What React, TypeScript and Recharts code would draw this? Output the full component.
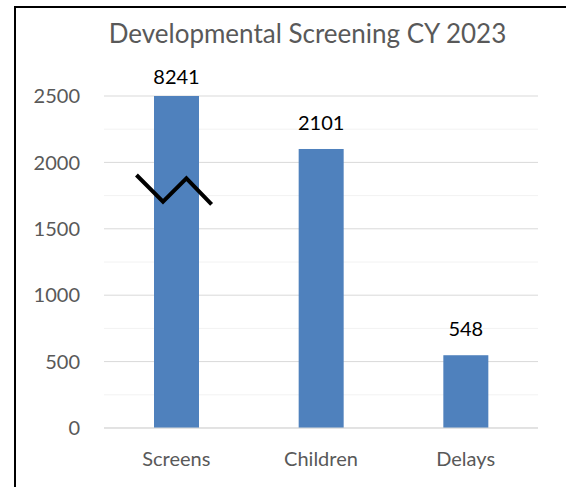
import React from "react";
import { BarChart, Bar, XAxis, YAxis, CartesianGrid, LabelList } from "recharts";

const categories = ["Screens", "Children", "Delays"];
const counts = [8241, 2101, 548];
const yTicks = [0, 500, 1000, 1500, 2000, 2500];
const minorTicks = [250, 750, 1250, 1750, 2250];
const AXIS_MAX = 2500;

// bars taller than the axis are cut at the top and get a break mark
const data = categories.map((name, i) => ({
  name,
  count: counts[i],
  shown: Math.min(counts[i], AXIS_MAX),
  broken: counts[i] > AXIS_MAX,
}));

const FONT = "Lato, 'Noto Sans', sans-serif";

function BarWithBreak(props: any) {
  const { x, y, width, height, fill, payload } = props;
  const rect = <rect x={x} y={y} width={width} height={height} fill={fill} />;
  if (!payload?.broken) return rect;
  const perUnit = height / payload.shown;
  const py = (v: number) => y + height - v * perUnit;
  const pts = [
    [x - width * 0.39, py(1905)],
    [x + width * 0.2, py(1704)],
    [x + width * 0.72, py(1880)],
    [x + width * 1.28, py(1684)],
  ];
  return (
    <g>
      {rect}
      <polyline
        points={pts.map((p) => p.join(",")).join(" ")}
        fill="none"
        stroke="#000"
        strokeWidth={4}
        strokeLinejoin="miter"
      />
    </g>
  );
}

function ValueLabel(props: any) {
  const { x, y, width, index } = props;
  const row = data[index];
  const gap = row.broken ? 12 : 19;
  return (
    <text
      x={x + width / 2}
      y={y - gap}
      textAnchor="middle"
      fontFamily={FONT}
      fontSize={20}
      fill="#000"
    >
      {row.count}
    </text>
  );
}

export default function App() {
  return (
    <div
      style={{
        position: "absolute",
        left: 0,
        top: 0,
        width: 566,
        height: 487,
        background: "#fff",
        overflow: "hidden",
      }}
    >
      <div
        style={{
          position: "absolute",
          left: 14,
          top: 6,
          right: 0,
          bottom: 0,
          borderTop: "2px solid #000",
          borderLeft: "2px solid #000",
        }}
      />
      <div
        style={{
          position: "absolute",
          left: 49,
          top: 20,
          width: 517,
          textAlign: "center",
          fontFamily: FONT,
          fontSize: 26,
          lineHeight: 1,
          color: "#595959",
          whiteSpace: "nowrap",
        }}
      >
        Developmental Screening CY 2023
      </div>
      <div style={{ position: "absolute", left: 0, top: 0 }}>
        <BarChart
          width={566}
          height={487}
          data={data}
          margin={{ top: 96, right: 28, left: 0, bottom: 29 }}
        >
          <CartesianGrid
            vertical={false}
            horizontalValues={minorTicks}
            stroke="#f2f2f2"
          />
          <CartesianGrid vertical={false} stroke="#d9d9d9" />
          <XAxis
            dataKey="name"
            height={30}
            axisLine={{ stroke: "#d9d9d9" }}
            tickLine={false}
            tickSize={0}
            tickMargin={24}
            tick={{ fontSize: 20, fill: "#595959", fontFamily: FONT }}
          />
          <YAxis
            width={104}
            domain={[0, AXIS_MAX]}
            ticks={yTicks}
            axisLine={false}
            tickLine={false}
            tickSize={0}
            tickMargin={24}
            tick={{ fontSize: 20, fill: "#595959", fontFamily: FONT }}
          />
          <Bar
            dataKey="shown"
            fill="#4F81BD"
            barSize={45}
            shape={BarWithBreak}
            isAnimationActive={false}
          >
            <LabelList dataKey="count" content={ValueLabel} />
          </Bar>
        </BarChart>
      </div>
    </div>
  );
}
